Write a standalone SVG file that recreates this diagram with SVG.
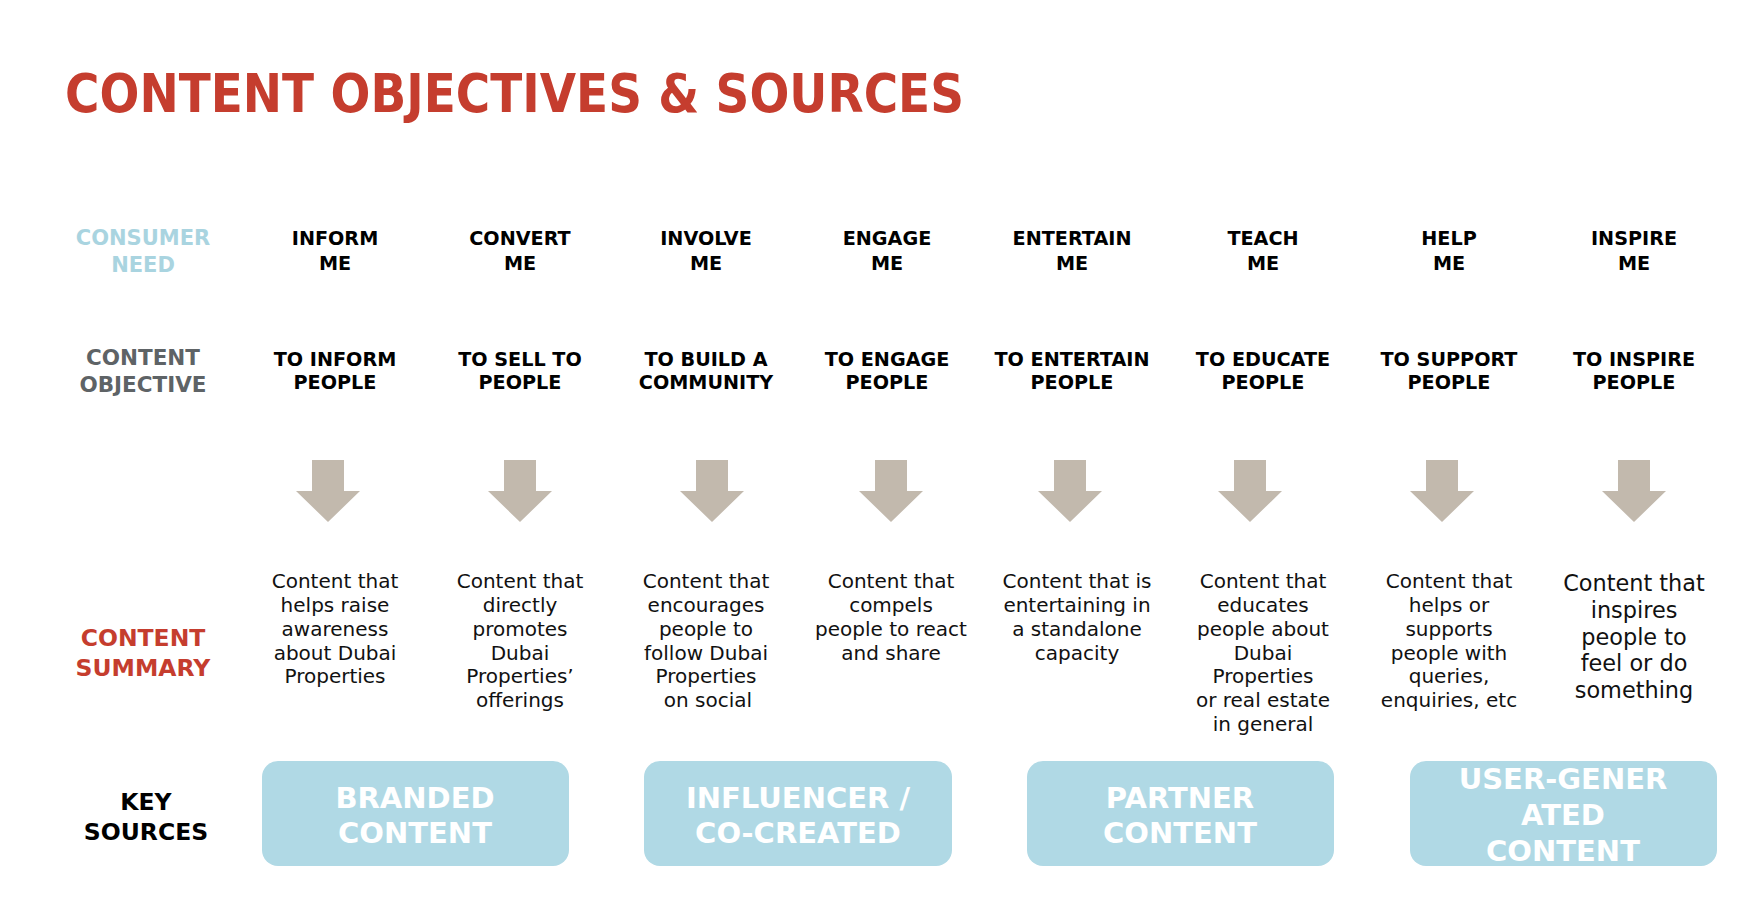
<svg xmlns="http://www.w3.org/2000/svg" width="1762" height="914" viewBox="0 0 1762 914">
<style>
text{font-family:"DejaVu Sans","Liberation Sans",sans-serif;text-anchor:middle}
.title{font-weight:bold;font-size:53px;fill:#C53D2E;text-anchor:start}
.lab{font-weight:bold;font-size:21px}
.need{fill:#A9D4E0}
.obj{fill:#5E6366;font-size:21.5px}
.sum{fill:#C53D2E;font-size:23.5px}
.key{fill:#000;font-size:23.5px}
.hd{font-weight:bold;font-size:19.2px;fill:#000}
.tx{font-size:20px;fill:#111}
.tx2{font-size:22.4px;fill:#111}
.arr{fill:#C2B9AD}
.box{fill:#B0D9E5}
.bt{font-weight:bold;font-size:29px;fill:#fff}
</style>
<rect width="1762" height="914" fill="#fff"/>
<text class="title" x="65" y="112" textLength="899" lengthAdjust="spacingAndGlyphs">CONTENT OBJECTIVES &amp; SOURCES</text>

<g id="row-labels">
<text class="lab need" x="143" y="245">CONSUMER</text>
<text class="lab need" x="143" y="272">NEED</text>
<text class="lab obj" x="143" y="365">CONTENT</text>
<text class="lab obj" x="143" y="392">OBJECTIVE</text>
<text class="lab sum" x="143" y="646">CONTENT</text>
<text class="lab sum" x="143" y="676">SUMMARY</text>
<text class="lab key" x="146" y="810">KEY</text>
<text class="lab key" x="146" y="840">SOURCES</text>
</g>

<g id="col1">
<text class="hd" x="335" y="245">INFORM</text><text class="hd" x="335" y="270">ME</text>
<text class="hd" x="335" y="365.5">TO INFORM</text><text class="hd" x="335" y="389">PEOPLE</text>
<text class="tx" x="335" y="588">Content that</text><text class="tx" x="335" y="612">helps raise</text><text class="tx" x="335" y="636">awareness</text><text class="tx" x="335" y="659.5">about Dubai</text><text class="tx" x="335" y="683">Properties</text>
</g>
<g id="col2">
<text class="hd" x="520" y="245">CONVERT</text><text class="hd" x="520" y="270">ME</text>
<text class="hd" x="520" y="365.5">TO SELL TO</text><text class="hd" x="520" y="389">PEOPLE</text>
<text class="tx" x="520" y="588">Content that</text><text class="tx" x="520" y="612">directly</text><text class="tx" x="520" y="636">promotes</text><text class="tx" x="520" y="659.5">Dubai</text><text class="tx" x="520" y="683">Properties’</text><text class="tx" x="520" y="707">offerings</text>
</g>
<g id="col3">
<text class="hd" x="706" y="245">INVOLVE</text><text class="hd" x="706" y="270">ME</text>
<text class="hd" x="706" y="365.5">TO BUILD A</text><text class="hd" x="706" y="389">COMMUNITY</text>
<text class="tx" x="706" y="588">Content that</text><text class="tx" x="706" y="612">encourages</text><text class="tx" x="706" y="636">people to</text><text class="tx" x="706" y="659.5">follow Dubai</text><text class="tx" x="706" y="683">Properties</text><text class="tx" x="708" y="707">on social</text>
</g>
<g id="col4">
<text class="hd" x="887" y="245">ENGAGE</text><text class="hd" x="887" y="270">ME</text>
<text class="hd" x="887" y="365.5">TO ENGAGE</text><text class="hd" x="887" y="389">PEOPLE</text>
<text class="tx" x="891" y="588">Content that</text><text class="tx" x="891" y="612">compels</text><text class="tx" x="891" y="636">people to react</text><text class="tx" x="891" y="659.5">and share</text>
</g>
<g id="col5">
<text class="hd" x="1072" y="245">ENTERTAIN</text><text class="hd" x="1072" y="270">ME</text>
<text class="hd" x="1072" y="365.5">TO ENTERTAIN</text><text class="hd" x="1072" y="389">PEOPLE</text>
<text class="tx" x="1077" y="588">Content that is</text><text class="tx" x="1077" y="612">entertaining in</text><text class="tx" x="1077" y="636">a standalone</text><text class="tx" x="1077" y="659.5">capacity</text>
</g>
<g id="col6">
<text class="hd" x="1263" y="245">TEACH</text><text class="hd" x="1263" y="270">ME</text>
<text class="hd" x="1263" y="365.5">TO EDUCATE</text><text class="hd" x="1263" y="389">PEOPLE</text>
<text class="tx" x="1263" y="588">Content that</text><text class="tx" x="1263" y="612">educates</text><text class="tx" x="1263" y="636">people about</text><text class="tx" x="1263" y="659.5">Dubai</text><text class="tx" x="1263" y="683">Properties</text><text class="tx" x="1263" y="707">or real estate</text><text class="tx" x="1263" y="731">in general</text>
</g>
<g id="col7">
<text class="hd" x="1449" y="245">HELP</text><text class="hd" x="1449" y="270">ME</text>
<text class="hd" x="1449" y="365.5">TO SUPPORT</text><text class="hd" x="1449" y="389">PEOPLE</text>
<text class="tx" x="1449" y="588">Content that</text><text class="tx" x="1449" y="612">helps or</text><text class="tx" x="1449" y="636">supports</text><text class="tx" x="1449" y="659.5">people with</text><text class="tx" x="1449" y="683">queries,</text><text class="tx" x="1449" y="707">enquiries, etc</text>
</g>
<g id="col8">
<text class="hd" x="1634" y="245">INSPIRE</text><text class="hd" x="1634" y="270">ME</text>
<text class="hd" x="1634" y="365.5">TO INSPIRE</text><text class="hd" x="1634" y="389">PEOPLE</text>
<text class="tx2" x="1634" y="591">Content that</text><text class="tx2" x="1634" y="617.5">inspires</text><text class="tx2" x="1634" y="644.5">people to</text><text class="tx2" x="1634" y="671">feel or do</text><text class="tx2" x="1634" y="698">something</text>
</g>

<defs>
<path id="ar" d="M-16,0 H16 V31 H32 L0,62 L-32,31 H-16 Z"/>
</defs>
<g id="connectors" class="arr">
<use href="#ar" x="328" y="460"/>
<use href="#ar" x="520" y="460"/>
<use href="#ar" x="712" y="460"/>
<use href="#ar" x="891" y="460"/>
<use href="#ar" x="1070" y="460"/>
<use href="#ar" x="1250" y="460"/>
<use href="#ar" x="1442" y="460"/>
<use href="#ar" x="1634" y="460"/>
</g>

<g id="src-branded">
<rect class="box" x="262" y="761" width="307" height="105" rx="16"/>
<text class="bt" x="415" y="808">BRANDED</text><text class="bt" x="415" y="843">CONTENT</text>
</g>
<g id="src-influencer">
<rect class="box" x="644" y="761" width="308" height="105" rx="16"/>
<text class="bt" x="798" y="808">INFLUENCER /</text><text class="bt" x="798" y="843">CO-CREATED</text>
</g>
<g id="src-partner">
<rect class="box" x="1027" y="761" width="307" height="105" rx="16"/>
<text class="bt" x="1180" y="808">PARTNER</text><text class="bt" x="1180" y="843">CONTENT</text>
</g>
<g id="src-ugc">
<rect class="box" x="1410" y="761" width="307" height="105" rx="16"/>
<text class="bt" x="1563" y="789">USER-GENER</text><text class="bt" x="1563" y="825">ATED</text><text class="bt" x="1563" y="861">CONTENT</text>
</g>
</svg>
